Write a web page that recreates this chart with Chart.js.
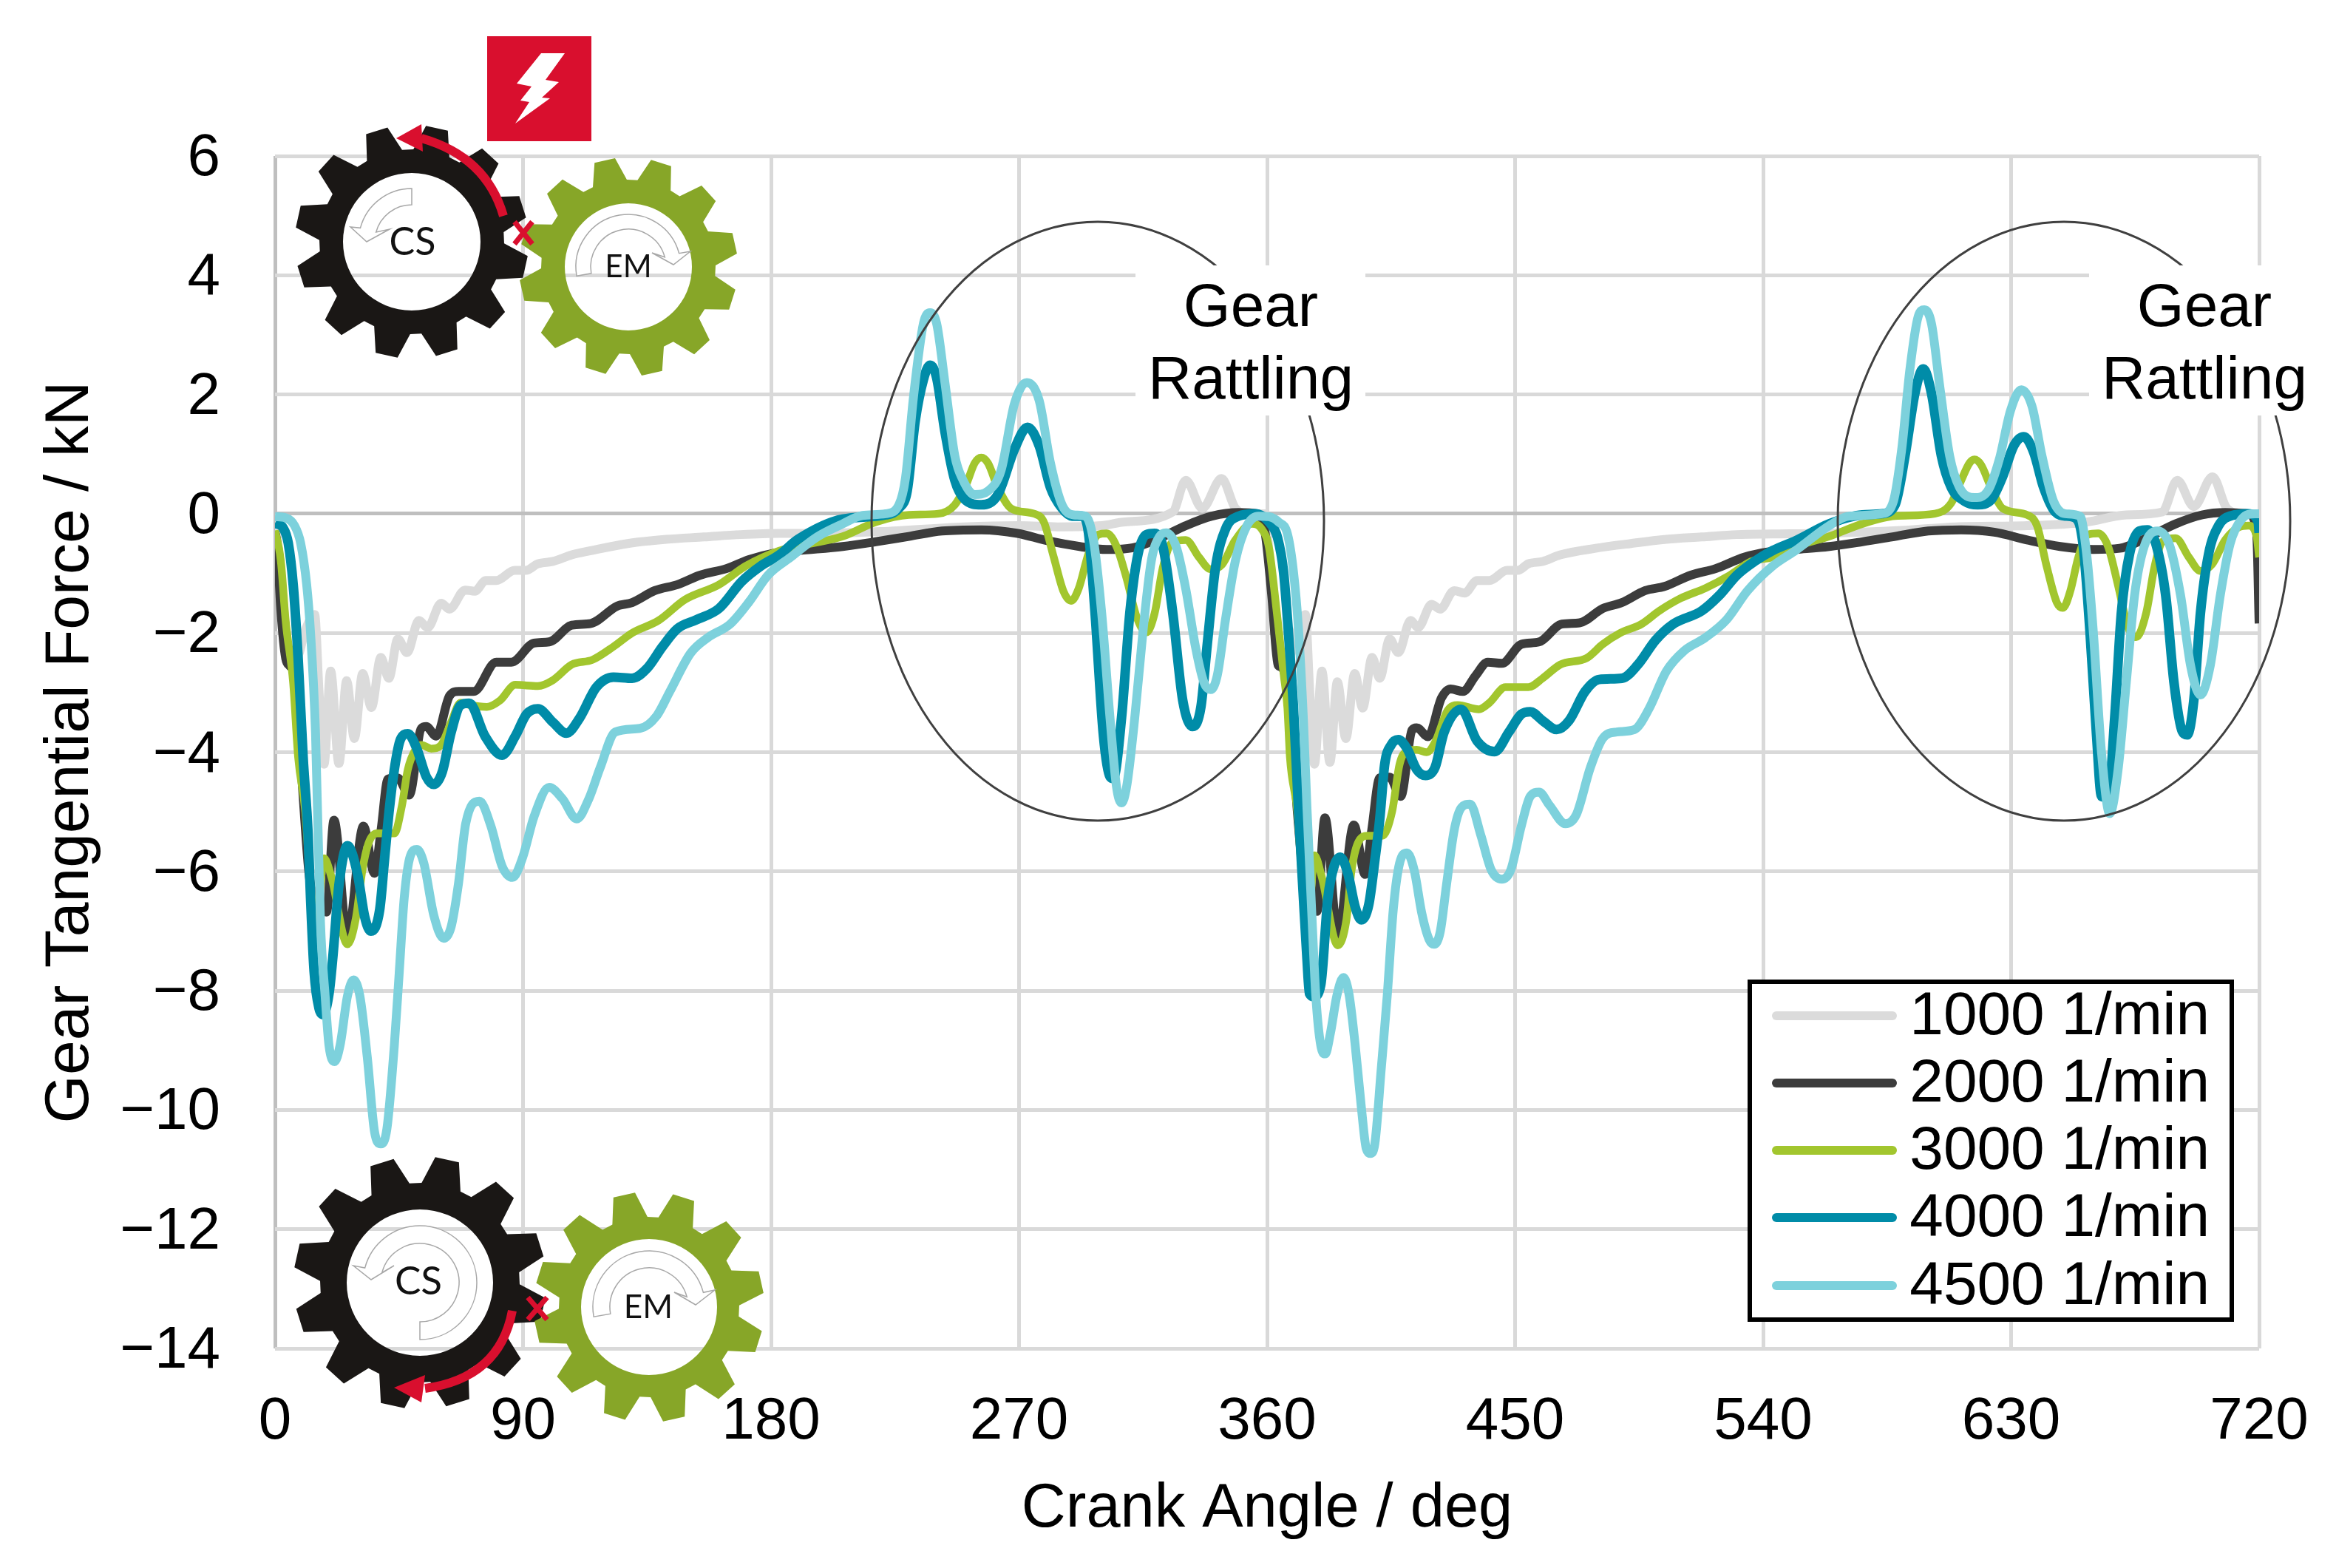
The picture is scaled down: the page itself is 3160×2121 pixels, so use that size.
<!DOCTYPE html>
<html>
<head>
<meta charset="utf-8">
<title>Gear Tangential Force</title>
<script src="https://cdn.jsdelivr.net/npm/chart.js@4"></script>
<style>
  html, body { margin: 0; padding: 0; background: #ffffff; }
  canvas { display: block; }
</style>
</head>
<body>
<canvas id="gearChart" width="3160" height="2121"></canvas>
<script>
// Values, crank angle in deg and force in kN
const angle1000 = [0,1.5,3,5,8,11,14.4,16,17.8,20.2,23.2,26,28.8,31.8,35,38.4,41.3,44.6,47.9,52.2,55.4,60.3,63.3,69,72.5,76.5,80.3,87,91,95.4,100.9,107.7,114.6,128,142,155.6,169,183,196.7,220,250,270,284,300,307.8,325.8,330.5,336.5,343.5,348.5,353.3,359.3,
  361,363,365,368,371,373.9,375.5,377.2,379.9,382.8,385.5,388.6,391.8,394.7,398.1,400.9,404.5,407.6,412.1,414.8,419.7,422.8,427.9,431.7,436.2,440.7,447.1,451,454.8,460,466.4,479.2,492,504.9,517.7,530.5,543.4,560,590,610,635.8,657.4,671.8,684.9,690.3,696.3,703.1,708.3,713.7,720];
const force1000 = [0,-0.7,-1.5,-2.3,-2.4,-1.95,-1.69,-3,-4.2,-2.64,-4.19,-2.8,-3.77,-2.68,-3.25,-2.41,-2.76,-2.1,-2.33,-1.79,-1.91,-1.5,-1.6,-1.28,-1.3,-1.12,-1.12,-0.95,-0.95,-0.84,-0.8,-0.69,-0.62,-0.5,-0.43,-0.39,-0.35,-0.33,-0.33,-0.3,-0.22,-0.2,-0.22,-0.2,-0.14,0.03,0.56,0.09,0.59,0.09,0,0,
  -0.8,-1.6,-2.3,-2.4,-1.95,-1.69,-3,-4.2,-2.64,-4.17,-2.82,-3.77,-2.68,-3.26,-2.41,-2.76,-2.1,-2.33,-1.79,-1.91,-1.52,-1.6,-1.29,-1.33,-1.12,-1.12,-0.95,-0.95,-0.84,-0.8,-0.69,-0.58,-0.5,-0.43,-0.39,-0.35,-0.34,-0.33,-0.28,-0.22,-0.2,-0.14,-0.02,0.03,0.56,0.12,0.62,0.09,0,0];

const angle2000 = [0,0.8,2.1,3.9,5.3,7,8,10,12.5,15.5,18.7,21.4,26.3,32.1,36.1,38.5,41,44.5,48.7,53.1,54.9,58.5,63.4,66.7,72.1,80.3,85.8,94,99.5,107.7,114.6,124.1,129.6,137.8,146,154.3,163.8,172,180.3,189.8,206,218,230,242,256.3,269.5,280,292,301.8,311.4,321,330.5,340,349.7,356.3,359.3,361.7,364,365.1,
  367,369,371,373.5,375.5,378.1,381,385.7,391.5,395.6,398,400.9,404.5,408.5,412.6,414.3,418.4,423.3,426.6,431.1,435.6,440.1,445.2,452.3,458.7,467,473.4,481.8,488.8,497.2,504.2,513.8,522.8,533.1,542.1,552,564,576,587.9,599.9,611.9,623.9,635.8,647.8,659.8,669.4,679,689.7,699.3,707.7,716.1,719.1,720];
const force2000 = [-0.3,-0.53,-1.6,-2.43,-2.55,-2.7,-3.2,-4.6,-6.1,-6.5,-6.68,-5.14,-7.1,-5.24,-6.03,-5.3,-4.45,-4.43,-4.72,-3.6,-3.57,-3.73,-3.05,-2.98,-2.98,-2.49,-2.49,-2.17,-2.15,-1.87,-1.84,-1.55,-1.49,-1.29,-1.19,-1.03,-0.92,-0.77,-0.67,-0.62,-0.55,-0.47,-0.38,-0.29,-0.27,-0.33,-0.45,-0.55,-0.6,-0.57,-0.41,-0.2,-0.04,0.02,0,-0.32,-1.37,-2.54,-2.57,
  -2.8,-3.6,-5,-6.2,-6.5,-6.67,-5.1,-7.08,-5.22,-6.05,-5.3,-4.43,-4.42,-4.74,-3.63,-3.59,-3.74,-3.09,-2.94,-2.98,-2.72,-2.49,-2.51,-2.19,-2.15,-1.85,-1.83,-1.59,-1.49,-1.29,-1.22,-1.03,-0.92,-0.73,-0.64,-0.6,-0.55,-0.47,-0.38,-0.29,-0.27,-0.31,-0.44,-0.55,-0.6,-0.58,-0.41,-0.17,-0.02,0.02,0,-0.32,-1.84];

const angle3000 = [0,2.1,3.9,6.6,8.4,11,13,15,17.8,20.5,26.3,29.4,31.7,33.9,37,43.3,46,48.2,50.9,53.1,56.7,60.3,63.9,67.4,70.8,76.9,81.7,87.2,95.4,100.9,107.7,115.2,122.8,129.6,139.2,148.8,161.1,170.7,183,206,218,230,240.7,246.7,250.9,253.9,256.3,258.7,262.3,267.1,275.5,279,282.6,286.2,288.9,291.6,295.2,298.8,301.8,305.4,309,312.6,316.2,319.2,322.2,325.8,330.5,335.3,339.5,343.7,348.5,354.5,358.1,
  360.7,363.4,366,367.4,368.3,371,373,375,377.2,379.9,385.7,388.8,390.6,392.9,396.5,401.8,405.4,408.1,410.8,414.3,417.9,421,425.5,429.2,436.9,440.7,446.5,454.8,460,466.4,476,481.8,488.2,495.9,502.3,510,519,528,535.7,543.4,552,564,576,587.9,602.3,608.3,611.9,614.9,616.7,619.1,622.7,626.9,635.8,639.4,643,646.6,648.8,651.4,654.4,658,661.6,665.2,668.8,672.4,675.4,679,682,684.9,689.7,694.5,698.7,702.9,707.7,712.5,716.1,719.1,720];
const force3000 = [-0.28,-0.78,-1.81,-2.84,-4.08,-5,-6.3,-6.8,-5.78,-6.1,-7.22,-6.77,-5.98,-5.53,-5.36,-5.36,-4.91,-4.29,-3.96,-3.88,-3.94,-3.88,-3.5,-3.17,-3.21,-3.24,-3.13,-2.87,-2.89,-2.79,-2.53,-2.45,-2.23,-2,-1.79,-1.44,-1.19,-0.88,-0.62,-0.38,-0.14,-0.02,0,0.15,0.5,0.85,0.94,0.85,0.44,0.09,0,-0.14,-0.73,-1.31,-1.46,-1.26,-0.67,-0.35,-0.33,-0.55,-1.08,-1.72,-1.99,-1.67,-0.9,-0.47,-0.44,-0.73,-0.93,-0.85,-0.44,-0.17,-0.26,
  -0.57,-1.6,-2.68,-3.26,-4.08,-5,-6.3,-6.8,-5.73,-6.1,-7.24,-6.81,-6,-5.53,-5.4,-5.4,-4.99,-4.2,-3.98,-3.96,-4,-3.83,-3.3,-3.21,-3.28,-3.17,-2.91,-2.91,-2.76,-2.53,-2.42,-2.19,-2,-1.85,-1.63,-1.42,-1.25,-1.03,-0.8,-0.73,-0.55,-0.38,-0.17,-0.04,0,0.18,0.56,0.85,0.91,0.82,0.44,0.09,-0.02,-0.2,-0.9,-1.49,-1.58,-1.31,-0.73,-0.35,-0.33,-0.55,-1.2,-1.9,-2.07,-1.67,-0.9,-0.47,-0.41,-0.73,-0.96,-0.85,-0.44,-0.23,-0.2,-0.38,-0.73];

const angle4000 = [0,3,4.8,6.6,8.4,10.2,12,12.9,14.2,16,17.5,19.6,21,23.2,26.3,29.9,32.6,34.8,38,39.7,41.5,43.3,45.5,48.2,51.3,54.9,57.6,60.7,63.9,67.4,70.5,76.2,82.4,87.2,91.3,95.4,100.9,105.7,110.5,116.6,122.8,129.6,135.1,140.6,146,152.9,161.1,169.3,176.2,183,189.8,206,221.6,226.4,229.4,232.3,235.3,237.7,240.1,243.1,246.7,250.3,256.3,262.3,268.3,273.1,277.3,281.4,285.6,289.2,292.8,295.2,297.6,300.6,303,304.2,307.2,310.2,313.2,316.2,319.2,322.2,325.8,329.4,333,336,338.3,341.3,344.9,349.7,355.7,
  361.1,363.8,366,367.8,369.6,371.4,373.2,374.5,375.4,377,379.5,382.1,384.4,386.6,389.3,392,394.2,396.9,399.1,400.9,402.7,405,407.6,410.8,414.3,417.5,421,424.2,430.4,436.2,442.6,447.8,452.3,455.5,460,465.1,469.6,475.4,480.5,488.8,494.6,501,507.4,517.7,524.1,530.5,536.9,543.4,552,564,576,583.1,587.9,591.5,595.1,598.1,601.1,604.7,608.3,613.1,617.9,622.7,626.9,631,634.6,638.2,641.8,646,650.2,653.8,656.2,658.6,661,662.8,665.2,667.6,670,673,676.6,679.5,682.5,686.1,689.1,692.1,693.9,696.3,698.7,701.7,705.3,710.1,716.1,719.7,720];
const force4000 = [-0.16,-0.24,-0.49,-1.19,-2.43,-4.08,-5.36,-6.44,-7.68,-8.3,-8.4,-8.05,-7.43,-6.23,-5.57,-6.03,-6.77,-7,-6.64,-5.82,-4.95,-4.29,-3.79,-3.69,-3.92,-4.41,-4.54,-4.33,-3.67,-3.21,-3.18,-3.73,-4.05,-3.73,-3.36,-3.27,-3.5,-3.68,-3.43,-2.91,-2.74,-2.76,-2.59,-2.23,-1.93,-1.78,-1.59,-1.14,-0.88,-0.69,-0.43,-0.09,-0.02,0.09,0.38,1.55,2.25,2.49,2.28,1.38,0.56,0.24,0.15,0.32,1.08,1.45,1.14,0.44,0.09,-0.04,-0.04,-0.32,-1.67,-3.71,-4.41,-4.44,-3.42,-1.67,-0.67,-0.35,-0.33,-0.55,-1.67,-3.13,-3.57,-3.24,-2.19,-0.9,-0.26,-0.04,0,
  -0.16,-0.4,-0.98,-2.02,-3.26,-4.95,-6.44,-7.47,-8.05,-8.1,-7.9,-6.44,-5.9,-5.76,-6.03,-6.6,-6.81,-6.56,-5.82,-5.12,-4.2,-3.88,-3.79,-3.94,-4.29,-4.39,-4.25,-3.67,-3.28,-3.81,-3.99,-3.66,-3.36,-3.32,-3.47,-3.62,-3.47,-2.98,-2.78,-2.76,-2.53,-2.12,-1.85,-1.63,-1.37,-1.03,-0.8,-0.62,-0.45,-0.17,-0.02,0,0.15,0.97,2.02,2.43,2.02,0.97,0.44,0.21,0.15,0.23,0.62,1.14,1.29,1.03,0.44,0.03,-0.04,-0.09,-0.55,-1.96,-3.71,-4.74,-4.76,-3.42,-1.67,-0.67,-0.29,-0.27,-0.5,-1.37,-2.83,-3.65,-3.71,-3.13,-1.67,-0.67,-0.2,-0.03,0,-0.15,-0.32];

const angle4500 = [0,3.9,7.1,9.3,11.5,12.9,14.7,16.5,18.2,19.6,21.6,23.6,26.3,28.5,30.8,33.5,36.1,38.4,40.6,43.3,45.1,46.9,49.1,51.5,54,57.6,61.2,63.9,66.5,69.2,74.2,78.3,82.4,86.2,89.9,94,99.5,104.3,109.5,113.9,118,123.5,132.4,138.5,143.3,150.8,157,165.2,172,178.9,187.1,196.7,206,213.2,221.6,226.4,228.8,231.7,235.3,237.7,240.1,243.1,246.7,249.7,253.9,258.7,263.5,268.3,272.8,277.3,281.4,285.6,289.8,294,297,300,303,305.4,307.2,309,312,315,318,321,323.4,327,330.5,334.1,337.1,339.5,341.9,344.9,348.5,352.7,356.9,
  360.7,364.2,367.4,369.6,371.4,373.2,374.5,376.3,377.7,379.5,381.1,383,385.3,387.7,389.7,392,394.2,396,397.5,399.1,401.4,403.6,405.8,408.1,410.8,413.4,416.1,418.8,420.6,422.8,425.1,427.9,430.5,433.7,437.5,441.4,445.2,448.4,452.3,455.5,458.7,462.5,468.3,472.2,477.3,481.8,486.9,493.3,498.5,504.9,511.3,519,526.7,534.4,543.4,552,564,571.2,583.1,587.3,590.3,593.3,596.3,598.5,601.1,604.1,607.7,611.3,616.7,621.5,625.7,629.8,633.7,637.6,641.2,645.4,649.6,655,657.4,659.8,662.8,665.8,668.8,671.8,674.8,678.3,683.1,687.3,691.5,695.1,698.7,702.3,705.9,709.5,713.7,718.5,720];
const force4500 = [-0.05,-0.07,-0.2,-0.49,-1.19,-2,-3.67,-6.85,-8.09,-8.92,-9.19,-8.92,-8.09,-7.82,-8.09,-9.12,-10.36,-10.57,-10.32,-8.92,-7.68,-6.44,-5.74,-5.63,-5.86,-6.73,-7.12,-6.93,-6.23,-5.2,-4.82,-5.23,-5.91,-6.1,-5.76,-5.08,-4.59,-4.78,-5.12,-4.78,-4.26,-3.66,-3.6,-3.39,-2.98,-2.34,-2.08,-1.85,-1.48,-1.03,-0.73,-0.39,-0.17,-0.03,0,0.15,0.6,1.96,3.19,3.37,3.19,2.2,0.97,0.56,0.32,0.38,0.73,1.84,2.2,1.9,0.85,0.15,-0.02,-0.04,-0.44,-1.67,-3.42,-4.59,-4.85,-4.59,-3.42,-1.96,-0.79,-0.38,-0.32,-0.55,-1.26,-2.25,-2.83,-2.95,-2.72,-1.78,-0.79,-0.2,-0.04,
  -0.05,-0.14,-0.34,-0.98,-1.93,-3.46,-4.95,-6.77,-8.09,-8.92,-9.06,-8.71,-8.09,-7.78,-8.05,-8.92,-9.95,-10.65,-10.73,-10.57,-9.33,-8.09,-6.64,-5.86,-5.69,-5.98,-6.69,-7.14,-7.22,-7.02,-6.23,-5.31,-4.93,-4.87,-5.38,-5.98,-6.13,-5.98,-5.23,-4.74,-4.67,-4.89,-5.2,-5.05,-4.26,-3.77,-3.66,-3.62,-3.28,-2.64,-2.3,-2.08,-1.78,-1.29,-0.88,-0.61,-0.2,-0.04,0,0.21,1.08,2.43,3.31,3.42,3.19,2.14,0.97,0.44,0.27,0.38,0.91,1.73,2.08,1.8,0.97,0.21,0,-0.04,-0.67,-1.96,-4,-5.03,-4.3,-2.83,-1.37,-0.55,-0.29,-0.5,-1.37,-2.54,-3.04,-2.54,-1.37,-0.5,-0.09,0,0];

const seriesNames = ['1000 1/min', '2000 1/min', '3000 1/min', '4000 1/min', '4500 1/min'];
const seriesAngles = [angle1000, angle2000, angle3000, angle4000, angle4500];
const seriesForces = [force1000, force2000, force3000, force4000, force4500];
const seriesColors = ['#dbdbdb', '#3c3c3c', '#a2c62e', '#008ca8', '#7dd1dc'];
const seriesWidths = [12, 12, 10.5, 13, 12];

const xTicks = [0, 90, 180, 270, 360, 450, 540, 630, 720];
const yTicks = [-14, -12, -10, -8, -6, -4, -2, 0, 2, 4, 6];

const FONT = "'Liberation Sans', Arial, sans-serif";
const RED = '#d90f2e';

// Tooth shape for the two gear pairs, everything is in canvas pixels
function gear(ctx, cx, cy, tip, root, hole, rotate, color) {
    const teeth = 12;
    ctx.beginPath();
    for (let i = 0; i < teeth; i++) {
        const a = (rotate + 15 + i * 30 - 90) * Math.PI / 180;
        const base = 11.5 * Math.PI / 180;
        const top = 5.5 * Math.PI / 180;
        const pts = [[root, a - base], [tip, a - top], [tip, a + top], [root, a + base]];
        pts.forEach(([r, t], j) => {
            const px = cx + r * Math.cos(t), py = cy + r * Math.sin(t);
            if (i === 0 && j === 0) ctx.moveTo(px, py); else ctx.lineTo(px, py);
        });
    }
    ctx.closePath();
    ctx.moveTo(cx + hole, cy);
    ctx.arc(cx, cy, hole, 0, Math.PI * 2);
    ctx.fillStyle = color;
    ctx.fill('evenodd');
}

// White rotation arrow inside a gear
function blockArrow(ctx, cx, cy, rOut, rIn, start, end, ccw, head) {
    const s = start * Math.PI / 180, e = end * Math.PI / 180;
    ctx.beginPath();
    ctx.arc(cx, cy, rOut, s, e, ccw);
    head.forEach(p => ctx.lineTo(p[0], p[1]));
    ctx.arc(cx, cy, rIn, e, s, !ccw);
    ctx.closePath();
    ctx.fillStyle = '#ffffff';
    ctx.fill();
    ctx.strokeStyle = '#a8a8a8';
    ctx.lineWidth = 1.5;
    ctx.stroke();
}

function redArrow(ctx, p0, c, p1, head) {
    ctx.strokeStyle = RED;
    ctx.lineWidth = 12;
    ctx.beginPath();
    ctx.moveTo(p0[0], p0[1]);
    ctx.quadraticCurveTo(c[0], c[1], p1[0], p1[1]);
    ctx.stroke();
    ctx.fillStyle = RED;
    ctx.beginPath();
    head.forEach((p, i) => i ? ctx.lineTo(p[0], p[1]) : ctx.moveTo(p[0], p[1]));
    ctx.closePath();
    ctx.fill();
}

function redCross(ctx, x, y, w, h) {
    ctx.strokeStyle = RED;
    ctx.lineWidth = 7;
    ctx.beginPath();
    ctx.moveTo(x - w, y - h); ctx.lineTo(x + w, y + h);
    ctx.moveTo(x + w, y - h); ctx.lineTo(x - w, y + h);
    ctx.stroke();
}

function gearLabel(ctx, text, x, y, size) {
    ctx.fillStyle = '#111111';
    ctx.font = size + "px Lato, 'Open Sans', sans-serif";
    ctx.textAlign = 'center';
    ctx.textBaseline = 'middle';
    ctx.fillText(text, x, y);
}

// White boxes behind the annotations, the grid stops at them
const noteBoxes = [[1536, 359, 311, 203], [2826, 359, 311, 203]];

const annotationPlugin = {
    id: 'annotations',
    beforeDatasetsDraw(chart) {
        const ctx = chart.ctx;
        ctx.save();
        ctx.fillStyle = '#ffffff';
        noteBoxes.forEach(b => ctx.fillRect(b[0], b[1], b[2], b[3]));
        ctx.restore();
    },
    afterDatasetsDraw(chart) {
        const ctx = chart.ctx;
        ctx.save();

        // rattling ellipses, cut off by the white boxes
        ctx.save();
        ctx.beginPath();
        ctx.rect(0, 0, 3160, 2121);
        noteBoxes.forEach(b => ctx.rect(b[0], b[1], b[2], b[3]));
        ctx.clip('evenodd');
        ctx.strokeStyle = '#404040';
        ctx.lineWidth = 3;
        [[1485, 612], [2792, 612]].forEach(e => {
            ctx.beginPath();
            ctx.ellipse(e[0], 705, e[1] / 2, 405, 0, 0, Math.PI * 2);
            ctx.stroke();
        });
        ctx.restore();

        ctx.fillStyle = '#000000';
        ctx.font = '82px ' + FONT;
        ctx.textAlign = 'center';
        ctx.textBaseline = 'alphabetic';
        ctx.fillText('Gear', 1692, 441);
        ctx.fillText('Rattling', 1692, 539);
        ctx.fillText('Gear', 2982, 441);
        ctx.fillText('Rattling', 2982, 539);

        // upper gear pair
        gear(ctx, 557, 327, 158, 125, 93, -2.5, '#1a1715');
        gear(ctx, 850, 361, 148, 118, 86, 2.5, '#87a628');
        blockArrow(ctx, 557, 327, 72, 50, -90, -165, true, [[474, 307], [496, 327], [527, 310]]);
        blockArrow(ctx, 850, 361, 71, 51, 170, 345, false, [[934, 340], [911, 358], [882, 342]]);
        gearLabel(ctx, 'CS', 558, 328, 52);
        gearLabel(ctx, 'EM', 850, 361, 42);
        redArrow(ctx, [681, 292], [658, 212], [570, 187], [[536, 187], [570, 168], [572, 205]]);
        redCross(ctx, 708, 315, 12, 15);

        // lower gear pair
        gear(ctx, 568, 1735, 171, 135, 99, -2.5, '#1a1715');
        gear(ctx, 878, 1768, 156, 122, 92, 2.5, '#87a628');
        blockArrow(ctx, 568, 1735, 77, 53, 90, -165, true, [[478, 1712], [502, 1731], [533, 1712]]);
        blockArrow(ctx, 878, 1768, 76, 53, 170, 345, false, [[967, 1745], [941, 1765], [912, 1748]]);
        gearLabel(ctx, 'CS', 566, 1734, 53);
        gearLabel(ctx, 'EM', 877, 1769, 44);
        redArrow(ctx, [693, 1773], [676, 1864], [575, 1878], [[533, 1877], [575, 1860], [570, 1897]]);
        redCross(ctx, 727, 1770, 13, 15);

        // electric power sign
        ctx.fillStyle = RED;
        ctx.fillRect(659, 49, 141, 142);
        ctx.fillStyle = '#ffffff';
        ctx.beginPath();
        [[732, 72], [764, 72], [738, 108], [756, 111], [733, 132], [744, 133], [697, 167], [716, 138], [704, 136], [719, 117], [699, 113]]
            .forEach((p, i) => i ? ctx.lineTo(p[0], p[1]) : ctx.moveTo(p[0], p[1]));
        ctx.closePath();
        ctx.fill();

        // legend
        const legendY = [1374, 1465, 1556, 1647, 1739];
        ctx.fillStyle = '#ffffff';
        ctx.fillRect(2367, 1328, 652, 457);
        ctx.strokeStyle = '#000000';
        ctx.lineWidth = 6;
        ctx.strokeRect(2367, 1328, 652, 457);
        ctx.font = '82px ' + FONT;
        ctx.textAlign = 'right';
        ctx.textBaseline = 'alphabetic';
        ctx.lineCap = 'round';
        chart.data.datasets.forEach((ds, i) => {
            ctx.strokeStyle = ds.borderColor;
            ctx.lineWidth = 12;
            ctx.beginPath();
            ctx.moveTo(2403, legendY[i]);
            ctx.lineTo(2560, legendY[i]);
            ctx.stroke();
            ctx.fillStyle = '#000000';
            ctx.fillText(ds.label, 2989, legendY[i] + 25);
        });
        ctx.restore();
    }
};

new Chart(document.getElementById('gearChart'), {
    type: 'line',
    data: {
        datasets: seriesNames.map((name, i) => ({
            label: name,
            data: seriesAngles[i].map((x, j) => ({ x: x, y: seriesForces[i][j] })),
            borderColor: seriesColors[i],
            borderWidth: seriesWidths[i],
            pointRadius: 0,
            cubicInterpolationMode: 'monotone',
            order: 5 - i
        }))
    },
    options: {
        responsive: false,
        devicePixelRatio: 1,
        animation: false,
        layout: { padding: { top: 211, right: 104, left: 0, bottom: 0 } },
        plugins: { legend: { display: false }, tooltip: { enabled: false } },
        scales: {
            x: {
                type: 'linear',
                min: 0,
                max: 720,
                // tick padding would otherwise eat into the right edge of the plot
                afterFit: axis => { axis.height = 297; axis.paddingLeft = 0; axis.paddingRight = 0; },
                afterBuildTicks: axis => { axis.ticks = xTicks.map(v => ({ value: v })); },
                border: { display: false },
                grid: {
                    drawTicks: false,
                    lineWidth: 5,
                    color: c => c.tick.value === 0 ? '#bfbfbf' : '#d9d9d9'
                },
                ticks: {
                    padding: 52,
                    autoSkip: false,
                    maxRotation: 0,
                    color: '#000000',
                    font: { family: FONT, size: 80 }
                },
                title: {
                    display: true,
                    text: 'Crank Angle / deg',
                    color: '#000000',
                    font: { family: FONT, size: 83 },
                    padding: { top: 0, bottom: 29 }
                }
            },
            y: {
                min: -14,
                max: 6,
                afterFit: axis => { axis.width = 372; },
                afterBuildTicks: axis => { axis.ticks = yTicks.map(v => ({ value: v })); },
                border: { display: false },
                grid: {
                    drawTicks: false,
                    lineWidth: 5,
                    color: c => c.tick.value === 0 ? '#bfbfbf' : '#d9d9d9'
                },
                ticks: {
                    padding: 74,
                    labelOffset: 4,
                    color: '#000000',
                    font: { family: FONT, size: 80 },
                    callback: v => String(v).replace('-', '\u2212')
                },
                title: {
                    display: true,
                    text: 'Gear Tangential Force / kN',
                    color: '#000000',
                    font: { family: FONT, size: 84 },
                    padding: { top: 45, bottom: 0 }
                }
            }
        }
    },
    plugins: [annotationPlugin]
});
</script>
</body>
</html>
